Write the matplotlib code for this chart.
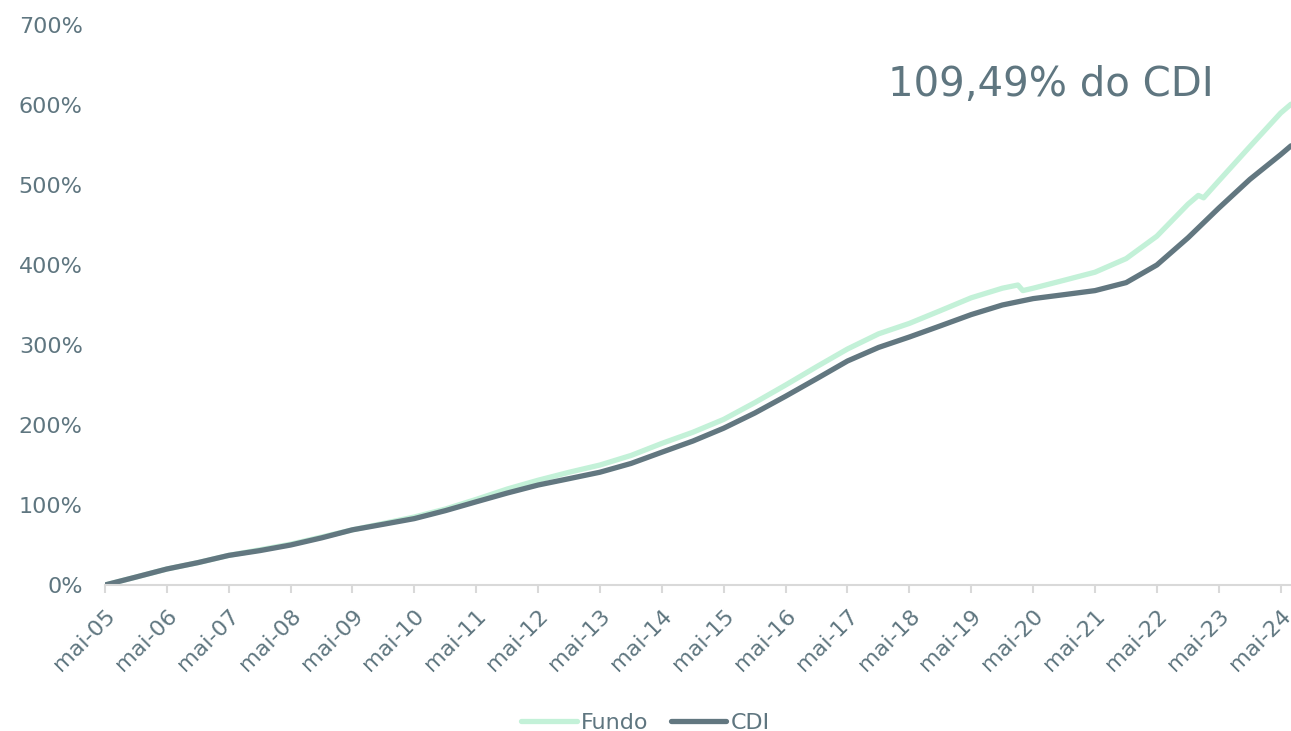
import numpy as np
import pandas as pd
import matplotlib
matplotlib.use("Agg")
import matplotlib.pyplot as plt
import matplotlib.dates as mdates
from matplotlib.ticker import FuncFormatter

# readings (cumulative return, %)
cdi_dates = ["2005-05", "2005-11", "2006-05", "2006-11", "2007-05", "2007-11",
             "2008-05", "2008-11", "2009-05", "2009-11", "2010-05", "2010-11",
             "2011-05", "2011-11", "2012-05", "2012-11", "2013-05", "2013-11",
             "2014-05", "2014-11", "2015-05", "2015-11", "2016-05", "2016-11",
             "2017-05", "2017-11", "2018-05", "2018-11", "2019-05", "2019-11",
             "2020-05", "2020-11", "2021-05", "2021-11", "2022-05", "2022-11",
             "2023-05", "2023-11", "2024-05", "2024-07"]
cdi_vals = [0, 10, 20, 28, 37, 43, 50, 59, 69, 76, 83, 93, 104, 115, 125, 133,
            141, 152, 166, 180, 196, 215, 236, 258, 280, 297, 310, 324, 338, 350,
            358, 363, 368, 378, 400, 434, 471, 507, 538, 549]

fundo_dates = ["2005-05", "2005-11", "2006-05", "2006-11", "2007-05", "2007-11",
               "2008-05", "2008-11", "2009-05", "2009-11", "2010-05", "2010-11",
               "2011-05", "2011-11", "2012-05", "2012-11", "2013-05", "2013-11",
               "2014-05", "2014-11", "2015-05", "2015-11", "2016-05", "2016-11",
               "2017-05", "2017-11", "2018-05", "2018-11", "2019-05", "2019-11",
               "2020-02", "2020-03", "2020-05", "2020-11", "2021-05", "2021-11",
               "2022-05", "2022-11", "2023-01", "2023-02", "2023-05", "2023-11",
               "2024-05", "2024-07"]
fundo_vals = [0, 10, 20, 28, 37, 44, 51, 60, 69, 77, 85, 95, 107, 120, 131, 141,
              150, 162, 177, 191, 207, 228, 250, 273, 295, 314, 327, 343, 359, 371,
              375, 368, 371, 381, 391, 408, 436, 476, 487, 484, 505, 548, 590, 601]

annotation = "109,49% do CDI"

GREEN = "#c3f1d8"
SLATE = "#627780"
TEXT = "#5f7680"
GREY = "#d9d9d9"

plt.rcParams['font.family'] = ['DejaVu Sans']

fig = plt.figure(figsize=(12.91, 7.31), dpi=100)
ax = fig.add_axes([0.0813, 0.1997, 0.9187, 0.7661])

ax.plot(pd.to_datetime(fundo_dates), fundo_vals, color=GREEN, lw=3.8,
        solid_capstyle='round', label="Fundo")
ax.plot(pd.to_datetime(cdi_dates), cdi_vals, color=SLATE, lw=3.8,
        solid_capstyle='round', label="CDI")

ax.set_xlim(pd.Timestamp("2005-05-01"), pd.Timestamp("2024-07-01"))
ax.set_ylim(0, 700)

ax.xaxis.set_major_locator(mdates.MonthLocator(bymonth=5))
ax.xaxis.set_major_formatter(FuncFormatter(
    lambda v, p: "mai-" + mdates.num2date(v).strftime("%y")))
ax.set_yticks(np.arange(0, 701, 100))
ax.yaxis.set_major_formatter(FuncFormatter(lambda v, p: f"{v:.0f}%"))

for s in ["top", "right", "left"]:
    ax.spines[s].set_visible(False)
ax.spines["bottom"].set_color(GREY)
ax.spines["bottom"].set_linewidth(1.5)
ax.tick_params(axis='x', colors=GREY, length=6, width=1.5, labelcolor=TEXT,
               labelsize=16, pad=9)
ax.tick_params(axis='y', length=0, labelcolor=TEXT, labelsize=16, pad=16)
plt.setp(ax.get_xticklabels(), rotation=45, ha='right', rotation_mode='anchor')

fig.text(888 / 1291, 1 - 96 / 731, annotation, color=TEXT, fontsize=29,
         va='baseline', ha='left')

fig.legend(loc='lower center', bbox_to_anchor=(0.5, -0.03), ncol=2, frameon=False,
           fontsize=16, labelcolor=TEXT, handlelength=2.5, handletextpad=0.2,
           columnspacing=1.0)

fig.savefig("out.png", dpi=100)
